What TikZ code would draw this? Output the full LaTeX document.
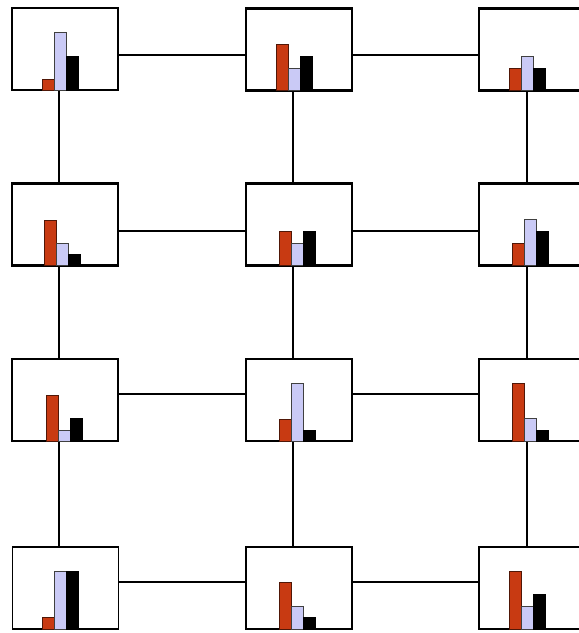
\documentclass[tikz,border=0pt]{standalone}
\definecolor{barred}{HTML}{C83A12}
\definecolor{barlav}{HTML}{CACAF6}
\begin{document}
\begin{tikzpicture}[x=1pt,y=-1pt,
  cell/.style={draw=black, line width=2.2pt, minimum width=106pt, minimum height=82pt, inner sep=0pt},
  thincell/.style={cell, line width=1.1pt},
  link/.style={line width=2pt},
  rbar/.style={fill=barred, draw=black!60!barred, line width=0.8pt},
  lbar/.style={fill=barlav, draw=black!75, line width=0.8pt},
  kbar/.style={fill=black, draw=black, line width=0.8pt}]
\useasboundingbox (0,0) rectangle (579,633);
\clip (0,0) rectangle (579,633);
\newcommand\barsat[5]{%
  \draw[rbar] (#1,#2) rectangle ({#1+12},#3);
  \draw[lbar] ({#1+12},#2) rectangle ({#1+24},#4);
  \draw[kbar] ({#1+24},#2) rectangle ({#1+36},#5);}
% boxes
\node[cell] (b11) at (65,49) {};
\node[cell] (b12) at (299,49.5) {};
\node[cell] (b13) at (532,49.5) {};
\node[cell] (b21) at (65,224.5) {};
\node[cell] (b22) at (299,224.5) {};
\node[cell] (b23) at (532,224.5) {};
\node[cell] (b31) at (65,400) {};
\node[cell] (b32) at (299,400) {};
\node[cell] (b33) at (532,400) {};
\node[thincell] (b41) at (65.5,588) {};
\node[cell] (b42) at (299,588) {};
\node[cell] (b43) at (532,588) {};
% connector guides
\coordinate (v1) at (59,0);
\coordinate (v2) at (293,0);
\coordinate (v3) at (527,0);
\coordinate (h1) at (0,55);
\coordinate (h2) at (0,231);
\coordinate (h3) at (0,394);
\coordinate (h4) at (0,582);
% horizontal connectors
\draw[link] (b11.east |- h1) -- (b12.west |- h1);
\draw[link] (b12.east |- h1) -- (b13.west |- h1);
\draw[link] (b21.east |- h2) -- (b22.west |- h2);
\draw[link] (b22.east |- h2) -- (b23.west |- h2);
\draw[link] (b31.east |- h3) -- (b32.west |- h3);
\draw[link] (b32.east |- h3) -- (b33.west |- h3);
\draw[link] (b41.east |- h4) -- (b42.west |- h4);
\draw[link] (b42.east |- h4) -- (b43.west |- h4);
% vertical connectors
\draw[link] (b11.south -| v1) -- (b21.north -| v1);
\draw[link] (b21.south -| v1) -- (b31.north -| v1);
\draw[link] (b31.south -| v1) -- (b41.north -| v1);
\draw[link] (b12.south -| v2) -- (b22.north -| v2);
\draw[link] (b22.south -| v2) -- (b32.north -| v2);
\draw[link] (b32.south -| v2) -- (b42.north -| v2);
\draw[link] (b13.south -| v3) -- (b23.north -| v3);
\draw[link] (b23.south -| v3) -- (b33.north -| v3);
\draw[link] (b33.south -| v3) -- (b43.north -| v3);
% bars
\barsat{42}{90}{79}{32}{56}
\barsat{276}{90}{44}{68}{56}
\barsat{509}{90}{68}{56}{68}
\barsat{44}{265.5}{220}{243}{254}
\barsat{279}{265.5}{231}{243}{231}
\barsat{512}{265.5}{243}{219}{231}
\barsat{46}{441}{395}{430}{418}
\barsat{279}{441}{419}{383}{430}
\barsat{512}{441}{383}{418}{430}
\barsat{42}{629}{617}{571}{571}
\barsat{279}{629}{582}{606}{617}
\barsat{509}{629}{571}{606}{594}
\end{tikzpicture}
\end{document}
